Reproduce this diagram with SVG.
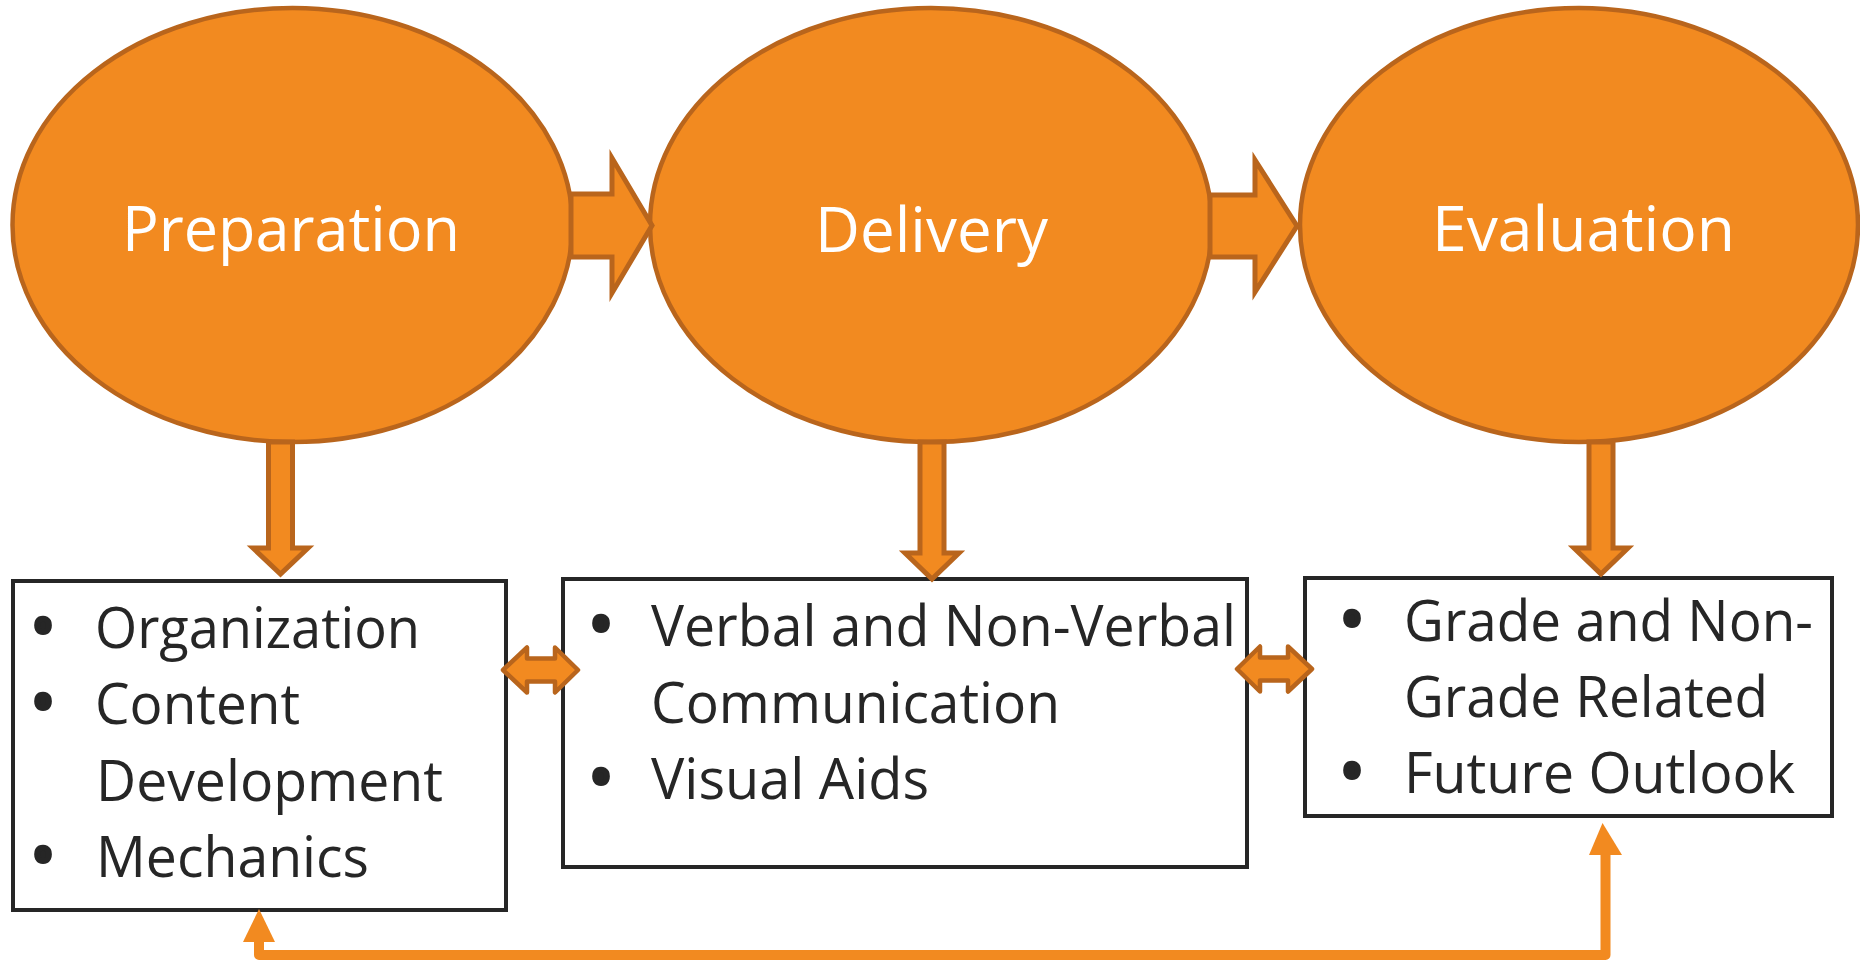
<svg xmlns="http://www.w3.org/2000/svg" width="1860" height="966" viewBox="0 0 1860 966">
  <style>
    .stage { fill: #F28A20; stroke: #B9651C; stroke-width: 4.5; }
    .flow { fill: #F28A20; stroke: #B9651C; stroke-width: 5; stroke-linejoin: miter; }
    .link { fill: #F28A20; stroke: #B9651C; stroke-width: 4.5; stroke-linejoin: round; }
    .loop { fill: none; stroke: #F28A20; stroke-width: 10; stroke-linejoin: round; }
    .loophead { fill: #F28A20; }
    .box { fill: #FFFFFF; stroke: #262626; stroke-width: 4; }
    .title { font-family: "Open Sans", "Noto Sans", sans-serif; font-size: 63px; fill: #FFFFFF; }
    .item { font-family: "Open Sans", "Noto Sans", sans-serif; font-size: 56px; fill: #262626; }
    .bullet { font-family: "Open Sans", "Noto Sans", sans-serif; font-size: 56px; fill: #262626; stroke: #262626; stroke-width: 6; stroke-linejoin: round; text-anchor: middle; }
  </style>

  <g id="preparation">
    <ellipse class="stage" cx="292.5" cy="225" rx="280" ry="217"/>
    <text class="title" x="122" y="251" textLength="338" lengthAdjust="spacingAndGlyphs">Preparation</text>
  </g>

  <g id="delivery">
    <ellipse class="stage" cx="931" cy="225" rx="281" ry="217"/>
    <text class="title" x="815" y="252" textLength="233" lengthAdjust="spacingAndGlyphs">Delivery</text>
  </g>

  <g id="evaluation">
    <ellipse class="stage" cx="1579" cy="225" rx="279" ry="217"/>
    <text class="title" x="1432" y="251" textLength="303" lengthAdjust="spacingAndGlyphs">Evaluation</text>
  </g>

  <g id="preparation-items">
    <rect class="box" x="13" y="581" width="493" height="329"/>
    <text class="bullet" x="43" y="646">•</text>
    <text class="item" x="95" y="648" textLength="325" lengthAdjust="spacingAndGlyphs">Organization</text>
    <text class="bullet" x="43" y="722">•</text>
    <text class="item" x="95" y="724" textLength="205" lengthAdjust="spacingAndGlyphs">Content</text>
    <text class="item" x="96" y="801" textLength="347" lengthAdjust="spacingAndGlyphs">Development</text>
    <text class="bullet" x="43" y="875">•</text>
    <text class="item" x="96" y="877" textLength="273" lengthAdjust="spacingAndGlyphs">Mechanics</text>
  </g>

  <g id="delivery-items">
    <rect class="box" x="563" y="579" width="684" height="288"/>
    <text class="bullet" x="601" y="644">•</text>
    <text class="item" x="651" y="646" textLength="585" lengthAdjust="spacingAndGlyphs">Verbal and Non-Verbal</text>
    <text class="item" x="651" y="723" textLength="409" lengthAdjust="spacingAndGlyphs">Communication</text>
    <text class="bullet" x="601" y="797">•</text>
    <text class="item" x="651" y="799" textLength="278" lengthAdjust="spacingAndGlyphs">Visual Aids</text>
  </g>

  <g id="evaluation-items">
    <rect class="box" x="1305" y="578" width="527" height="238"/>
    <text class="bullet" x="1352" y="639">•</text>
    <text class="item" x="1404" y="641" textLength="409" lengthAdjust="spacingAndGlyphs">Grade and Non-</text>
    <text class="item" x="1404" y="717" textLength="364" lengthAdjust="spacingAndGlyphs">Grade Related</text>
    <text class="bullet" x="1352" y="791">•</text>
    <text class="item" x="1404" y="793" textLength="391" lengthAdjust="spacingAndGlyphs">Future Outlook</text>
  </g>

  <!-- connectors: block arrows between stages, drop arrows into boxes, links between boxes, feedback loop -->
  <g id="connectors">
    <path class="flow" d="M571,194 H612 V158 L652,225.5 L612,293 V257 H571 Z"/>
    <path class="flow" d="M1210,195 H1255 V160 L1297,226 L1255,292 V257 H1210 Z"/>

    <path class="flow" d="M268.5,442 V548 H253 L280.5,574 L308,548 H292.5 V442 Z"/>
    <path class="flow" d="M920,442 V553 H905 L932,579 L959,553 H944 V442 Z"/>
    <path class="flow" d="M1589,442 V548 H1574 L1601,574 L1628,548 H1613 V442 Z"/>

    <path class="link" d="M503,670 L527,647.5 V658.5 H555 V647.5 L578,670 L555,692.5 V681.5 H527 V692.5 Z"/>
    <path class="link" d="M1237,669 L1260,646.5 V657.5 H1288 V646.5 L1312,669 L1288,691.5 V680.5 H1260 V691.5 Z"/>

    <path class="loop" d="M259,940 V955 H1605.5 V853"/>
    <polygon class="loophead" points="259,909 243,942 275,942"/>
    <polygon class="loophead" points="1602.5,823 1589,855 1622,855"/>
  </g>
</svg>
